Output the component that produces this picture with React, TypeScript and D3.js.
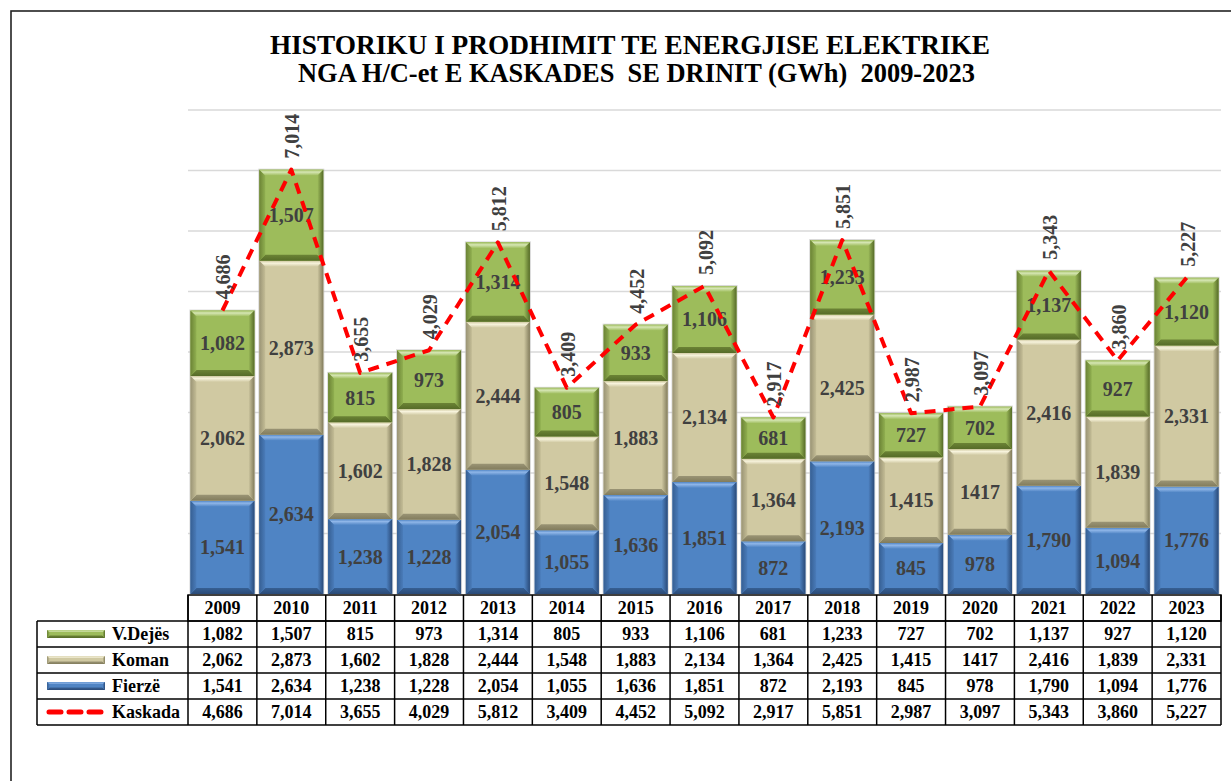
import React from "react";
import * as d3 from "d3";

const years = ["2009","2010","2011","2012","2013","2014","2015","2016","2017","2018","2019","2020","2021","2022","2023"];
const vDejes = [1082,1507,815,973,1314,805,933,1106,681,1233,727,702,1137,927,1120];
const koman = [2062,2873,1602,1828,2444,1548,1883,2134,1364,2425,1415,1417,2416,1839,2331];
const fierze = [1541,2634,1238,1228,2054,1055,1636,1851,872,2193,845,978,1790,1094,1776];
const kaskada = [4686,7014,3655,4029,5812,3409,4452,5092,2917,5851,2987,3097,5343,3860,5227];
const yTicks = [0,1000,2000,3000,4000,5000,6000,7000,8000];
// cells printed without thousands separator in the source
const plainCells: Record<string, boolean> = { "Koman-2020": true };

const seriesDefs = [
  { key: "fierze", name: "Fierzë", values: fierze, base: "#4f84c4", light: "#8fb6e8", left: "#4a7cba", right: "#365f93", dark: "#2a4a78" },
  { key: "koman", name: "Koman", values: koman, base: "#d0c9a2", light: "#f7f3dc", left: "#c4bd96", right: "#9a9475", dark: "#827c5c" },
  { key: "vdejes", name: "V.Dejës", values: vDejes, base: "#9dbc5b", light: "#d6e6b4", left: "#90af50", right: "#6b8335", dark: "#566b28" },
];

const fmt = d3.format(",");
const SERIF = "'Times New Roman', 'Liberation Serif', serif";

function Bevel({ x, y, w, h, s, b0 = 6 }: any) {
  const b = Math.max(0, Math.min(b0, h / 2, w / 2));
  const id = s.key;
  return (
    <g>
      <rect x={x} y={y} width={w} height={h} fill={s.base} />
      <polygon points={`${x},${y} ${x + w},${y} ${x + w - b},${y + b} ${x + b},${y + b}`} fill={`url(#${id}-top)`} />
      <polygon points={`${x},${y + h} ${x + w},${y + h} ${x + w - b},${y + h - b} ${x + b},${y + h - b}`} fill={`url(#${id}-bot)`} />
      <polygon points={`${x},${y} ${x + b},${y + b} ${x + b},${y + h - b} ${x},${y + h}`} fill={`url(#${id}-left)`} />
      <polygon points={`${x + w},${y} ${x + w - b},${y + b} ${x + w - b},${y + h - b} ${x + w},${y + h}`} fill={`url(#${id}-right)`} />
    </g>
  );
}

export default function App() {
  const W = 1231, H = 781;
  const left = 188, right = 1221, bottom = 594, top = 110;
  const x = d3.scaleBand<string>().domain(years).range([left, right]).paddingInner(0.07).paddingOuter(0.035);
  const col = d3.scaleBand<string>().domain(years).range([left, right]).padding(0);
  const y = d3.scaleLinear().domain([0, 8000]).range([bottom, top]);

  const stackData = years.map((yr, i) => {
    const o: any = { year: yr };
    seriesDefs.forEach((s) => (o[s.key] = s.values[i]));
    return o;
  });
  const stacked = d3.stack<any>().keys(seriesDefs.map((s) => s.key))(stackData);

  const line = d3
    .line<number>()
    .x((_, i) => (x(years[i]) as number) + x.bandwidth() / 2)
    .y((d) => y(d));

  const tableTop = 595;
  const headerH = 26;
  const rowH = 26;
  const legendLeft = 37;
  const tableRows = [
    { name: "V.Dejës", s: seriesDefs[2], values: vDejes, key: "V.Dejës" },
    { name: "Koman", s: seriesDefs[1], values: koman, key: "Koman" },
    { name: "Fierzë", s: seriesDefs[0], values: fierze, key: "Fierzë" },
    { name: "Kaskada", s: null, values: kaskada, key: "Kaskada" },
  ];
  const rowsTop = tableTop + headerH;
  const tableBottom = rowsTop + rowH * tableRows.length;

  const cellText = (name: string, yr: string, v: number) => (plainCells[`${name}-${yr}`] ? String(v) : fmt(v));

  return (
    <svg width={W} height={H} style={{ position: "absolute", left: 0, top: 0, background: "#fff" }} fontFamily={SERIF}>
      <defs>
        {seriesDefs.map((s) => (
          <React.Fragment key={s.key}>
            <linearGradient id={`${s.key}-top`} x1="0" y1="0" x2="0" y2="1">
              <stop offset="0" stopColor={s.base} />
              <stop offset="0.4" stopColor={s.light} />
              <stop offset="1" stopColor={s.base} />
            </linearGradient>
            <linearGradient id={`${s.key}-bot`} x1="0" y1="0" x2="0" y2="1">
              <stop offset="0" stopColor={s.right} />
              <stop offset="1" stopColor={s.dark} />
            </linearGradient>
            <linearGradient id={`${s.key}-left`} x1="0" y1="0" x2="1" y2="0">
              <stop offset="0" stopColor={s.right} />
              <stop offset="1" stopColor={s.left} />
            </linearGradient>
            <linearGradient id={`${s.key}-right`} x1="0" y1="0" x2="1" y2="0">
              <stop offset="0" stopColor={s.base} />
              <stop offset="1" stopColor={s.dark} />
            </linearGradient>
          </React.Fragment>
        ))}
      </defs>

      {/* outer frame */}
      <rect x={11} y={11} width={1240} height={800} fill="none" stroke="#222" strokeWidth={1.6} />

      {/* title */}
      <text x={270} y={54} fontSize={27} fontWeight="bold" textLength={720} lengthAdjust="spacingAndGlyphs">
        HISTORIKU I PRODHIMIT TE ENERGJISE ELEKTRIKE
      </text>
      <text x={298} y={82} fontSize={27} fontWeight="bold" textLength={677} lengthAdjust="spacingAndGlyphs" style={{ whiteSpace: "pre" }}>
        {"NGA H/C-et E KASKADES  SE DRINIT (GWh)  2009-2023"}
      </text>

      {/* gridlines */}
      {yTicks.slice(1).map((t) => (
        <line key={t} x1={left} x2={right} y1={y(t)} y2={y(t)} stroke="#d9d9d9" strokeWidth={1.3} />
      ))}

      {/* bar shadows */}
      {years.map((yr, i) => {
        const bx = x(yr) as number;
        const top0 = y(fierze[i] + koman[i] + vDejes[i]);
        return <rect key={yr} x={bx - 1} y={top0 - 1} width={x.bandwidth() + 2} height={bottom - top0 + 1} fill="#bfbfbf" opacity={0.6} />;
      })}

      {/* bars */}
      {stacked.map((layer, li) => {
        const s = seriesDefs[li];
        return (
          <g key={s.key}>
            {layer.map((d, i) => {
              const bx = x(years[i]) as number;
              const y0 = y(d[1]);
              const h = y(d[0]) - y(d[1]);
              return <Bevel key={i} x={bx} y={y0} w={x.bandwidth()} h={h} s={s} />;
            })}
          </g>
        );
      })}

      {/* segment labels */}
      {stacked.map((layer, li) => {
        const s = seriesDefs[li];
        return layer.map((d, i) => (
          <text
            key={s.key + i}
            x={(x(years[i]) as number) + x.bandwidth() / 2}
            y={(y(d[0]) + y(d[1])) / 2}
            dy="0.35em"
            textAnchor="middle"
            fontSize={20}
            fontWeight="bold"
            fill="#404040"
          >
            {cellText(s.name, years[i], s.values[i])}
          </text>
        ));
      })}

      {/* Kaskada line */}
      <path d={line(kaskada) as string} fill="none" stroke="#ff0000" strokeWidth={4} strokeDasharray="11 8" strokeLinejoin="round" />

      {/* total labels */}
      {kaskada.map((v, i) => {
        const cx = (x(years[i]) as number) + x.bandwidth() / 2 + 1;
        const cy = y(v) - 11;
        return (
          <text key={i} transform={`translate(${cx},${cy}) rotate(-90)`} dy="0.35em" textAnchor="start" fontSize={20} fontWeight="bold" fill="#404040">
            {fmt(v)}
          </text>
        );
      })}

      {/* table header */}
      <g>
        <rect x={left} y={tableTop} width={right - left} height={headerH} fill="#fff" stroke="#000" strokeWidth={1.5} />
        {years.map((yr) => (
          <g key={yr}>
            <line x1={col(yr) as number} x2={col(yr) as number} y1={tableTop} y2={tableBottom} stroke="#000" strokeWidth={1.5} />
            <text x={(col(yr) as number) + col.bandwidth() / 2} y={tableTop + headerH / 2} dy="0.35em" textAnchor="middle" fontSize={18} fontWeight="bold" fill="#000">
              {yr}
            </text>
          </g>
        ))}
        <line x1={right} x2={right} y1={tableTop} y2={tableBottom} stroke="#000" strokeWidth={1.5} />
      </g>

      {/* table rows */}
      {tableRows.map((r, ri) => {
        const ry = rowsTop + ri * rowH;
        const cy = ry + rowH / 2;
        return (
          <g key={r.key}>
            <line x1={legendLeft} x2={right} y1={ry} y2={ry} stroke="#000" strokeWidth={1.5} />
            {r.s ? (
              <Bevel x={47} y={cy - 4} w={58} h={8} s={r.s} b0={2.5} />
            ) : (
              <line x1={49} x2={103} y1={cy} y2={cy} stroke="#ff0000" strokeWidth={5} strokeDasharray="12 8" strokeLinecap="round" />
            )}
            <text x={112} y={cy} dy="0.35em" fontSize={18} fontWeight="bold" fill="#000">
              {r.name}
            </text>
            {years.map((yr, i) => (
              <text key={yr} x={(col(yr) as number) + col.bandwidth() / 2} y={cy} dy="0.35em" textAnchor="middle" fontSize={18} fontWeight="bold" fill="#000">
                {cellText(r.key, yr, r.values[i])}
              </text>
            ))}
          </g>
        );
      })}
      <line x1={legendLeft} x2={right} y1={tableBottom} y2={tableBottom} stroke="#000" strokeWidth={1.5} />
      <line x1={legendLeft} x2={legendLeft} y1={rowsTop} y2={tableBottom} stroke="#000" strokeWidth={1.5} />
    </svg>
  );
}
